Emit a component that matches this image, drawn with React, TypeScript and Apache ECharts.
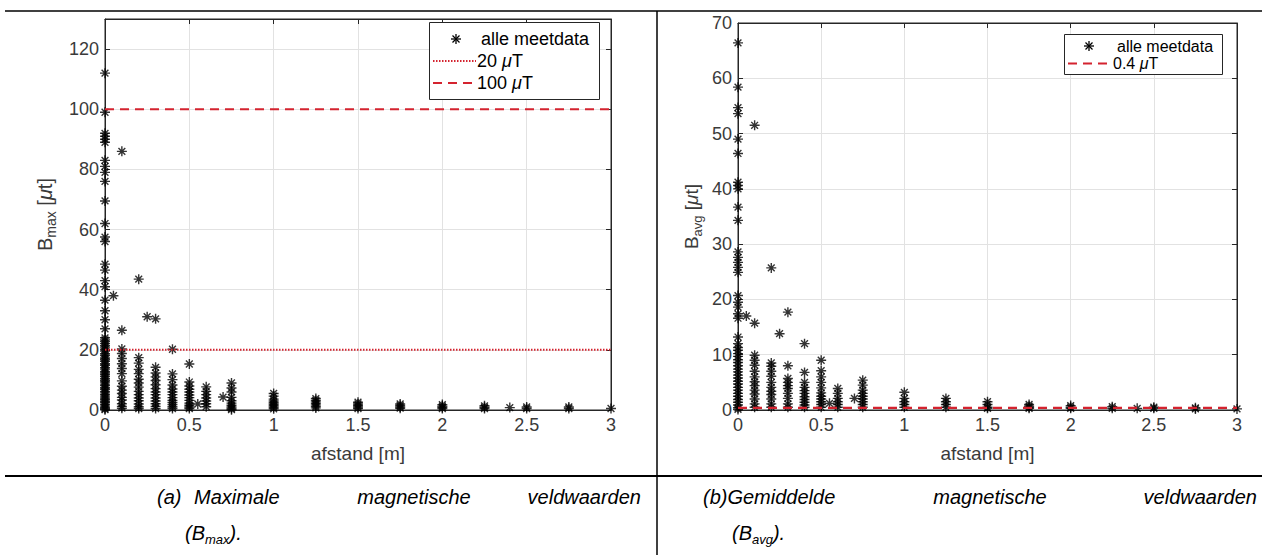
import React, { useEffect, useRef } from "react";
import * as echarts from "echarts";

// ---- data ----
const distances = [0, 0.05, 0.1, 0.2, 0.25, 0.3, 0.4, 0.5, 0.55, 0.6, 0.7, 0.75, 1, 1.25, 1.5, 1.75, 2, 2.25, 2.4, 2.5, 2.75, 3];

const bmaxValues: number[][] = [
  [112, 99, 92, 91, 90, 89, 83, 81, 79, 76, 69.5, 62, 57.5, 56, 48.5, 46.5, 43, 41, 36.5, 33, 30, 27, 24, 23.3, 22.8, 22.1, 21.4, 20.9, 20.2, 19.6, 18.7, 18.1, 17.3, 16.8, 16.2, 15.4, 14.9, 14.1, 13.6, 12.8, 12.3, 11.7, 11.1, 10.4, 9.8, 9.3, 8.6, 8.1, 7.4, 6.9, 6.2, 5.7, 5.1, 4.6, 4.0, 3.5, 2.9, 2.4, 1.8, 1.3, 0.8, 0.4, 0.1],
  [38],
  [86, 26.5, 20.3, 18.8, 17.1, 15.4, 13.8, 12.1, 9.7, 7.9, 6.6, 5.5, 4.2, 3.3, 2.1, 1.2, 0.6],
  [43.5, 17.4, 15.6, 13.5, 12.1, 10.2, 9.0, 7.6, 6.2, 5.1, 4.0, 3.1, 2.0, 1.1, 0.5],
  [31],
  [30.3, 14.2, 12.3, 11.0, 9.8, 8.4, 7.1, 6.0, 5.1, 4.0, 3.0, 2.1, 1.2, 0.5],
  [20.2, 12.0, 10.1, 8.3, 7.0, 6.0, 5.1, 4.1, 3.2, 2.5, 1.8, 1.1, 0.5],
  [15.3, 9.3, 8.0, 6.9, 6.0, 5.0, 4.1, 3.2, 2.3, 1.6, 1.0, 0.5],
  [2],
  [7.7, 6.2, 5.1, 4.0, 3.0, 2.1, 1.1],
  [4.3],
  [9.0, 7.3, 6.0, 4.2, 3.1, 2.3, 1.6, 1.0, 0.5, 0.1],
  [5.5, 4.6, 3.6, 3.0, 2.4, 1.9, 1.4, 0.9, 0.4],
  [3.8, 3.2, 2.7, 2.2, 1.7, 1.2, 0.7],
  [2.6, 2.0, 1.5, 1.0, 0.5],
  [2.0, 1.5, 1.0, 0.6],
  [1.8, 1.3, 0.9, 0.5],
  [1.4, 0.9, 0.5],
  [0.8],
  [1.0, 0.5],
  [1.0, 0.5],
  [0.5],
];

const bavgValues: number[][] = [
  [66.4, 58.4, 54.7, 53.6, 49, 46.4, 41.2, 40.6, 40, 36.7, 34.3, 28.6, 27.6, 26.7, 25.8, 24.9, 20.7, 19.5, 18.6, 17.4, 16.6, 13.2, 12, 11.3, 10.8, 10.2, 9.7, 9.1, 8.6, 8.0, 7.4, 6.9, 6.3, 5.8, 5.2, 4.7, 4.1, 3.6, 3.0, 2.5, 1.9, 1.4, 0.9, 0.4, 0.1],
  [17],
  [51.5, 15.7, 9.9, 9.0, 8.1, 7.0, 6.0, 5.1, 4.4, 3.6, 2.9, 2.0, 1.1, 0.5],
  [25.7, 8.5, 7.9, 7.0, 6.1, 5.0, 4.1, 3.4, 2.8, 2.0, 1.1, 0.5],
  [13.8],
  [17.7, 8.0, 5.7, 5.0, 4.4, 3.9, 3.0, 2.1, 1.1, 0.5],
  [12.0, 6.8, 5.0, 4.1, 3.5, 3.0, 2.4, 1.9, 1.4, 0.9, 0.5],
  [9.0, 7.1, 6.0, 5.0, 4.0, 3.1, 2.5, 2.0, 1.5, 1.0, 0.5],
  [1.2],
  [3.9, 3.0, 2.1, 1.5, 1.0, 0.5],
  [2.1],
  [5.4, 4.5, 3.6, 3.0, 2.5, 2.0, 1.5, 1.0, 0.5],
  [3.2, 2.1, 1.5, 1.0, 0.5],
  [2.1, 1.5, 1.0, 0.5],
  [1.5, 1.0, 0.5, 0.3],
  [1.0, 0.7, 0.5, 0.3],
  [0.8, 0.5, 0.3],
  [0.6, 0.3],
  [0.3],
  [0.5, 0.3],
  [0.4, 0.2],
  [0.2],
];

const bmaxLimit20 = 20;
const bmaxLimit100 = 100;
const bavgLimit = 0.4;
const xRange = [0, 3];
const legendLabelsA = ["alle meetdata", "20 {mu|μ}T", "100 {mu|μ}T"];
const legendLabelsB = ["alle meetdata", "0.4 {mu|μ}T"];

// ---- styling ----
const FONT = "'Liberation Sans', Arial, Helvetica, sans-serif";
const AXIS = "#262626";
const LABEL = "#3a3a3a";
const GRIDC = "#e2e2e2";
const RED = "#d4232f";
const STAR = "path://M0,5L10,5M5,0L5,10M1.6,1.6L8.4,8.4M8.4,1.6L1.6,8.4";

function pairs(vals: number[][]) {
  const out: number[][] = [];
  distances.forEach((d, i) => vals[i].forEach((v) => out.push([d, v])));
  return out;
}

function starLines(cx: number, cy: number) {
  const r = 5, d = 3.5;
  const ls = { stroke: "#000", lineWidth: 1.3 };
  return [
    { type: "line", z: 20, shape: { x1: cx - r, y1: cy, x2: cx + r, y2: cy }, style: ls },
    { type: "line", z: 20, shape: { x1: cx, y1: cy - r, x2: cx, y2: cy + r }, style: ls },
    { type: "line", z: 20, shape: { x1: cx - d, y1: cy - d, x2: cx + d, y2: cy + d }, style: ls },
    { type: "line", z: 20, shape: { x1: cx - d, y1: cy + d, x2: cx + d, y2: cy - d }, style: ls },
  ];
}

const legText = (x: number, y: number, t: string, size: number) => ({
  type: "text",
  z: 20,
  x,
  y,
  style: {
    text: t,
    fontSize: size,
    fontFamily: FONT,
    fill: "#000",
    textVerticalAlign: "middle",
    rich: { mu: { fontSize: size, fontStyle: "italic", fontFamily: FONT, fill: "#000" } },
  },
});

function xAxes(grid: number, fs: number, nfs: number) {
  return [
    {
      gridIndex: grid,
      type: "value",
      min: xRange[0],
      max: xRange[1],
      interval: 0.5,
      axisLine: { show: true, onZero: false, lineStyle: { color: AXIS, width: 1 } },
      axisTick: { show: true, inside: true, length: 5, lineStyle: { color: AXIS } },
      axisLabel: { fontSize: fs, color: LABEL, margin: 6, fontFamily: FONT },
      splitLine: { show: true, lineStyle: { color: GRIDC, width: 1 } },
      name: "afstand [m]",
      nameLocation: "middle",
      nameGap: 34,
      nameTextStyle: { fontSize: nfs, color: LABEL, fontFamily: FONT },
    },
    {
      gridIndex: grid,
      type: "value",
      position: "top",
      min: xRange[0],
      max: xRange[1],
      interval: 0.5,
      axisLine: { show: true, onZero: false, lineStyle: { color: AXIS, width: 1 } },
      axisTick: { show: true, inside: true, length: 5, lineStyle: { color: AXIS } },
      axisLabel: { show: false },
      splitLine: { show: false },
    },
  ];
}

function yAxes(grid: number, max: number, interval: number, sub: string, gap: number, fs: number, nfs: number) {
  return [
    {
      gridIndex: grid,
      type: "value",
      min: 0,
      max,
      interval,
      axisLine: { show: true, onZero: false, lineStyle: { color: AXIS, width: 1 } },
      axisTick: { show: true, inside: true, length: 5, lineStyle: { color: AXIS } },
      axisLabel: { fontSize: fs, color: LABEL, margin: 6, fontFamily: FONT, showMaxLabel: max % interval === 0 },
      splitLine: { show: true, lineStyle: { color: GRIDC, width: 1 } },
      name: "{b|B}{s|" + sub + "}{b| [}{m|μ}{b|t]}",
      nameLocation: "middle",
      nameRotate: 90,
      nameGap: gap,
      nameTextStyle: {
        rich: {
          b: { fontSize: nfs, color: LABEL, fontFamily: FONT },
          s: { fontSize: Math.round(nfs * 0.7), color: LABEL, fontFamily: FONT, padding: [12, 0, 0, 0] },
          m: { fontSize: nfs, color: LABEL, fontFamily: FONT, fontStyle: "italic" },
        },
      },
    },
    {
      gridIndex: grid,
      type: "value",
      position: "right",
      min: 0,
      max,
      interval,
      axisLine: { show: true, onZero: false, lineStyle: { color: AXIS, width: 1 } },
      axisTick: { show: true, inside: true, length: 5, lineStyle: { color: AXIS } },
      axisLabel: { show: false },
      splitLine: { show: false },
    },
  ];
}

const capStyle = (t: string, align: string) => ({
  text: t,
  fontSize: 20,
  fontStyle: "italic",
  fontFamily: FONT,
  fill: "#000",
  textAlign: align,
  textVerticalAlign: "middle",
  rich: {
    s: { fontSize: 13, fontStyle: "italic", fontFamily: FONT, fill: "#000", padding: [12, 0, 0, 0] },
  },
});

export default function App() {
  const ref = useRef<HTMLDivElement>(null);
  useEffect(() => {
    if (!ref.current) return;
    const chart = echarts.init(ref.current, null, { renderer: "svg" });
    const scatterStyle = { color: "rgba(0,0,0,0)", borderColor: "#000", borderWidth: 1.4 };
    const option: any = {
      animation: false,
      backgroundColor: "#fff",
      grid: [
        { left: 105, top: 19, width: 506, height: 391, show: true, borderColor: AXIS, borderWidth: 1, backgroundColor: "#fff" },
        { left: 738, top: 23, width: 499, height: 387, show: true, borderColor: AXIS, borderWidth: 1, backgroundColor: "#fff" },
      ],
      xAxis: [...xAxes(0, 18, 19), ...xAxes(1, 18, 19)],
      yAxis: [...yAxes(0, 130, 20, "max", 47, 18, 20), ...yAxes(1, 70, 10, "avg", 34, 18, 19)],
      series: [
        {
          type: "scatter",
          xAxisIndex: 0,
          yAxisIndex: 0,
          symbol: STAR,
          symbolSize: 10,
          itemStyle: scatterStyle,
          data: pairs(bmaxValues),
          z: 2,
        },
        {
          type: "line",
          xAxisIndex: 0,
          yAxisIndex: 0,
          symbol: "none",
          lineStyle: { color: RED, width: 2, type: [1.5, 1.5] },
          data: [[xRange[0], bmaxLimit20], [xRange[1], bmaxLimit20]],
          z: 3,
        },
        {
          type: "line",
          xAxisIndex: 0,
          yAxisIndex: 0,
          symbol: "none",
          lineStyle: { color: RED, width: 2.2, type: [9, 6] },
          data: [[xRange[0], bmaxLimit100], [xRange[1], bmaxLimit100]],
          z: 3,
        },
        {
          type: "scatter",
          xAxisIndex: 2,
          yAxisIndex: 2,
          symbol: STAR,
          symbolSize: 10,
          itemStyle: scatterStyle,
          data: pairs(bavgValues),
          z: 2,
        },
        {
          type: "line",
          xAxisIndex: 2,
          yAxisIndex: 2,
          symbol: "none",
          lineStyle: { color: RED, width: 2.2, type: [9, 6] },
          data: [[xRange[0], bavgLimit], [xRange[1], bavgLimit]],
          z: 3,
        },
      ],
      graphic: [
        // table rules
        { type: "line", z: 5, shape: { x1: 5, y1: 11, x2: 1262, y2: 11 }, style: { stroke: "#000", lineWidth: 1.5 } },
        { type: "line", z: 5, shape: { x1: 5, y1: 476, x2: 1262, y2: 476 }, style: { stroke: "#000", lineWidth: 2 } },
        { type: "line", z: 5, shape: { x1: 657, y1: 11, x2: 657, y2: 555 }, style: { stroke: "#000", lineWidth: 1.5 } },
        // legend A
        { type: "rect", z: 10, shape: { x: 429.5, y: 22.5, width: 170, height: 77 }, style: { fill: "#fff", stroke: AXIS, lineWidth: 1 } },
        ...starLines(456, 39),
        legText(481, 39, legendLabelsA[0], 18),
        { type: "line", z: 20, shape: { x1: 433, y1: 61, x2: 476, y2: 61 }, style: { stroke: RED, lineWidth: 2, lineDash: [1.5, 1.5] } },
        legText(477, 61, legendLabelsA[1], 18),
        { type: "line", z: 20, shape: { x1: 433, y1: 83, x2: 476, y2: 83 }, style: { stroke: RED, lineWidth: 2.2, lineDash: [9, 6] } },
        legText(477, 83, legendLabelsA[2], 18),
        // legend B
        { type: "rect", z: 10, shape: { x: 1064.5, y: 34.5, width: 158, height: 40 }, style: { fill: "#fff", stroke: AXIS, lineWidth: 1 } },
        ...starLines(1089, 46),
        legText(1117, 46, legendLabelsB[0], 16),
        { type: "line", z: 20, shape: { x1: 1068, y1: 63.5, x2: 1112, y2: 63.5 }, style: { stroke: RED, lineWidth: 2.2, lineDash: [9, 6] } },
        legText(1113, 63.5, legendLabelsB[1], 16),
        // captions
        { type: "text", z: 5, x: 157, y: 497, style: capStyle("(a)", "left") },
        { type: "text", z: 5, x: 194, y: 497, style: capStyle("Maximale", "left") },
        { type: "text", z: 5, x: 414, y: 497, style: capStyle("magnetische", "center") },
        { type: "text", z: 5, x: 641, y: 497, style: capStyle("veldwaarden", "right") },
        { type: "text", z: 5, x: 185, y: 533, style: capStyle("(B{s|max}).", "left") },
        { type: "text", z: 5, x: 703, y: 497, style: capStyle("(b)Gemiddelde", "left") },
        { type: "text", z: 5, x: 990, y: 497, style: capStyle("magnetische", "center") },
        { type: "text", z: 5, x: 1257, y: 497, style: capStyle("veldwaarden", "right") },
        { type: "text", z: 5, x: 732, y: 533, style: capStyle("(B{s|avg}).", "left") },
      ],
    };
    chart.setOption(option);
    return () => chart.dispose();
  }, []);
  return (
    <div
      ref={ref}
      style={{ position: "fixed", left: 0, top: 0, width: 1266, height: 555, background: "#fff" }}
    />
  );
}
